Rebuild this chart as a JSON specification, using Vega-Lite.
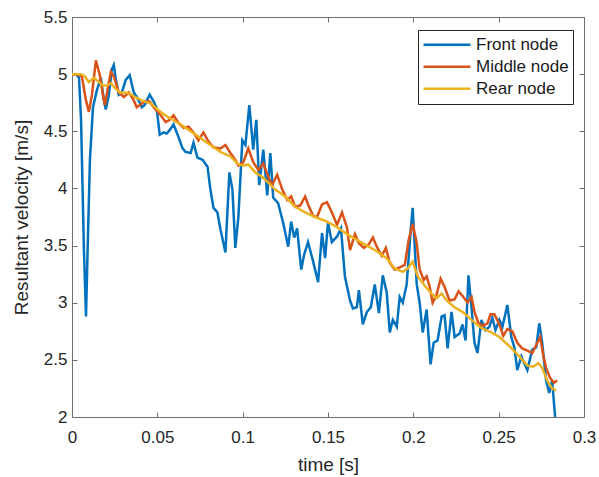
{
  "$schema": "https://vega.github.io/schema/vega-lite/v6.json",
  "width": 512,
  "height": 400,
  "autosize": {"type": "none"},
  "padding": {"left": 72, "top": 17, "right": 15, "bottom": 60},
  "background": "white",
  "config": {
    "view": {"stroke": null},
    "font": "Liberation Sans",
    "axis": {
      "grid": false,
      "domainColor": "#6e6e6e",
      "tickColor": "#6e6e6e",
      "domainWidth": 1,
      "tickWidth": 1,
      "tickSize": -5,
      "labelColor": "#262626",
      "titleColor": "#262626",
      "labelFont": "Liberation Sans",
      "titleFont": "Liberation Sans",
      "labelFontSize": 17,
      "titleFontSize": 19,
      "titleFontWeight": "normal",
      "labelFlush": false,
      "labelOverlap": false,
      "labelBound": false
    }
  },
  "datasets": {
    "front": [
      {"t":0,"v":5.00},{"t":0.0023,"v":5.00},{"t":0.0041,"v":4.97},{"t":0.0053,"v":4.60},{"t":0.0070,"v":3.46},{"t":0.0082,"v":2.88},{"t":0.0093,"v":3.55},{"t":0.0105,"v":4.25},{"t":0.0123,"v":4.71},{"t":0.0146,"v":4.86},{"t":0.0169,"v":4.97},{"t":0.0187,"v":4.77},{"t":0.0198,"v":4.69},{"t":0.0216,"v":4.82},{"t":0.0233,"v":5.04},{"t":0.0245,"v":5.08},{"t":0.0257,"v":4.95},{"t":0.0274,"v":4.82},{"t":0.0292,"v":4.84},{"t":0.0315,"v":4.95},{"t":0.0338,"v":4.99},{"t":0.0362,"v":4.84},{"t":0.0379,"v":4.80},{"t":0.0397,"v":4.75},{"t":0.0409,"v":4.71},{"t":0.0426,"v":4.73},{"t":0.0455,"v":4.82},{"t":0.0479,"v":4.76},{"t":0.0496,"v":4.70},{"t":0.0514,"v":4.47},{"t":0.0537,"v":4.49},{"t":0.0555,"v":4.48},{"t":0.0572,"v":4.51},{"t":0.0595,"v":4.56},{"t":0.0619,"v":4.47},{"t":0.0648,"v":4.35},{"t":0.0665,"v":4.32},{"t":0.0695,"v":4.31},{"t":0.0712,"v":4.40},{"t":0.0735,"v":4.27},{"t":0.0765,"v":4.25},{"t":0.0794,"v":4.19},{"t":0.0811,"v":3.99},{"t":0.0829,"v":3.83},{"t":0.0852,"v":3.79},{"t":0.0870,"v":3.64},{"t":0.0899,"v":3.44},{"t":0.0922,"v":4.14},{"t":0.0940,"v":3.99},{"t":0.0957,"v":3.48},{"t":0.0975,"v":3.75},{"t":0.0998,"v":4.42},{"t":0.1016,"v":4.38},{"t":0.1039,"v":4.73},{"t":0.1062,"v":4.34},{"t":0.1080,"v":4.60},{"t":0.1097,"v":4.03},{"t":0.1121,"v":4.34},{"t":0.1144,"v":3.94},{"t":0.1162,"v":4.31},{"t":0.1179,"v":3.92},{"t":0.1208,"v":3.87},{"t":0.1237,"v":3.70},{"t":0.1267,"v":3.49},{"t":0.1284,"v":3.71},{"t":0.1302,"v":3.57},{"t":0.1319,"v":3.65},{"t":0.1343,"v":3.29},{"t":0.1360,"v":3.42},{"t":0.1383,"v":3.53},{"t":0.1413,"v":3.36},{"t":0.1442,"v":3.18},{"t":0.1465,"v":3.61},{"t":0.1483,"v":3.39},{"t":0.1500,"v":3.70},{"t":0.1523,"v":3.53},{"t":0.1553,"v":3.58},{"t":0.1576,"v":3.65},{"t":0.1599,"v":3.23},{"t":0.1629,"v":3.02},{"t":0.1646,"v":2.95},{"t":0.1669,"v":2.96},{"t":0.1681,"v":3.11},{"t":0.1704,"v":2.81},{"t":0.1728,"v":2.92},{"t":0.1751,"v":2.96},{"t":0.1774,"v":3.16},{"t":0.1798,"v":2.91},{"t":0.1821,"v":3.24},{"t":0.1844,"v":3.09},{"t":0.1862,"v":2.74},{"t":0.1880,"v":2.85},{"t":0.1903,"v":2.79},{"t":0.1920,"v":3.05},{"t":0.1938,"v":3.00},{"t":0.1961,"v":3.16},{"t":0.1985,"v":3.64},{"t":0.1996,"v":3.83},{"t":0.2020,"v":3.16},{"t":0.2037,"v":3.00},{"t":0.2055,"v":2.74},{"t":0.2078,"v":2.94},{"t":0.2101,"v":2.46},{"t":0.2119,"v":2.65},{"t":0.2142,"v":2.67},{"t":0.2166,"v":2.88},{"t":0.2183,"v":2.89},{"t":0.2201,"v":2.60},{"t":0.2224,"v":2.92},{"t":0.2242,"v":2.70},{"t":0.2271,"v":2.73},{"t":0.2288,"v":2.81},{"t":0.2306,"v":2.67},{"t":0.2323,"v":3.24},{"t":0.2341,"v":2.96},{"t":0.2358,"v":2.65},{"t":0.2376,"v":2.56},{"t":0.2399,"v":2.85},{"t":0.2422,"v":2.76},{"t":0.2446,"v":2.79},{"t":0.2463,"v":2.87},{"t":0.2481,"v":2.76},{"t":0.2504,"v":2.85},{"t":0.2522,"v":2.79},{"t":0.2551,"v":2.98},{"t":0.2574,"v":2.70},{"t":0.2592,"v":2.61},{"t":0.2609,"v":2.41},{"t":0.2633,"v":2.53},{"t":0.2650,"v":2.47},{"t":0.2668,"v":2.41},{"t":0.2697,"v":2.59},{"t":0.2720,"v":2.61},{"t":0.2738,"v":2.82},{"t":0.2755,"v":2.65},{"t":0.2778,"v":2.32},{"t":0.2796,"v":2.21},{"t":0.2813,"v":2.32},{"t":0.2831,"v":2.00}
    ],
    "middle": [
      {"t":0,"v":5.00},{"t":0.0029,"v":5.00},{"t":0.0058,"v":4.98},{"t":0.0082,"v":4.77},{"t":0.0099,"v":4.67},{"t":0.0117,"v":4.82},{"t":0.0140,"v":5.12},{"t":0.0163,"v":4.99},{"t":0.0181,"v":4.82},{"t":0.0193,"v":4.73},{"t":0.0210,"v":4.88},{"t":0.0228,"v":5.02},{"t":0.0245,"v":4.98},{"t":0.0274,"v":4.84},{"t":0.0304,"v":4.80},{"t":0.0333,"v":4.84},{"t":0.0362,"v":4.77},{"t":0.0379,"v":4.71},{"t":0.0397,"v":4.73},{"t":0.0426,"v":4.76},{"t":0.0455,"v":4.76},{"t":0.0484,"v":4.70},{"t":0.0520,"v":4.64},{"t":0.0549,"v":4.58},{"t":0.0572,"v":4.60},{"t":0.0595,"v":4.64},{"t":0.0625,"v":4.57},{"t":0.0654,"v":4.53},{"t":0.0683,"v":4.54},{"t":0.0712,"v":4.49},{"t":0.0741,"v":4.42},{"t":0.0770,"v":4.49},{"t":0.0800,"v":4.41},{"t":0.0829,"v":4.36},{"t":0.0870,"v":4.35},{"t":0.0899,"v":4.38},{"t":0.0928,"v":4.31},{"t":0.0957,"v":4.25},{"t":0.0975,"v":4.20},{"t":0.1004,"v":4.23},{"t":0.1033,"v":4.35},{"t":0.1062,"v":4.23},{"t":0.1092,"v":4.16},{"t":0.1121,"v":4.22},{"t":0.1150,"v":4.10},{"t":0.1173,"v":4.03},{"t":0.1202,"v":4.12},{"t":0.1232,"v":3.99},{"t":0.1261,"v":3.90},{"t":0.1284,"v":3.93},{"t":0.1307,"v":3.84},{"t":0.1337,"v":3.85},{"t":0.1366,"v":3.93},{"t":0.1383,"v":3.86},{"t":0.1413,"v":3.76},{"t":0.1436,"v":3.75},{"t":0.1465,"v":3.86},{"t":0.1494,"v":3.88},{"t":0.1523,"v":3.79},{"t":0.1553,"v":3.68},{"t":0.1582,"v":3.79},{"t":0.1611,"v":3.66},{"t":0.1629,"v":3.46},{"t":0.1658,"v":3.60},{"t":0.1681,"v":3.52},{"t":0.1710,"v":3.48},{"t":0.1739,"v":3.51},{"t":0.1763,"v":3.57},{"t":0.1786,"v":3.49},{"t":0.1815,"v":3.41},{"t":0.1839,"v":3.48},{"t":0.1862,"v":3.35},{"t":0.1891,"v":3.29},{"t":0.1920,"v":3.31},{"t":0.1950,"v":3.33},{"t":0.1973,"v":3.55},{"t":0.1996,"v":3.69},{"t":0.2020,"v":3.52},{"t":0.2037,"v":3.29},{"t":0.2061,"v":3.20},{"t":0.2078,"v":3.23},{"t":0.2096,"v":3.14},{"t":0.2113,"v":3.00},{"t":0.2136,"v":3.07},{"t":0.2160,"v":3.21},{"t":0.2183,"v":3.14},{"t":0.2212,"v":3.02},{"t":0.2242,"v":3.03},{"t":0.2265,"v":3.10},{"t":0.2288,"v":3.06},{"t":0.2317,"v":3.00},{"t":0.2341,"v":3.05},{"t":0.2358,"v":2.92},{"t":0.2382,"v":2.82},{"t":0.2411,"v":2.80},{"t":0.2434,"v":2.82},{"t":0.2452,"v":2.90},{"t":0.2475,"v":2.90},{"t":0.2504,"v":2.81},{"t":0.2527,"v":2.71},{"t":0.2551,"v":2.77},{"t":0.2580,"v":2.75},{"t":0.2609,"v":2.65},{"t":0.2638,"v":2.60},{"t":0.2668,"v":2.58},{"t":0.2697,"v":2.56},{"t":0.2720,"v":2.63},{"t":0.2743,"v":2.70},{"t":0.2761,"v":2.54},{"t":0.2778,"v":2.43},{"t":0.2802,"v":2.34},{"t":0.2825,"v":2.30},{"t":0.2843,"v":2.32}
    ],
    "rear": [
      {"t":0,"v":5.00},{"t":0.0053,"v":5.00},{"t":0.0076,"v":4.98},{"t":0.0099,"v":4.93},{"t":0.0128,"v":4.97},{"t":0.0158,"v":4.93},{"t":0.0181,"v":4.90},{"t":0.0204,"v":4.90},{"t":0.0228,"v":4.92},{"t":0.0251,"v":4.88},{"t":0.0280,"v":4.84},{"t":0.0309,"v":4.84},{"t":0.0338,"v":4.83},{"t":0.0368,"v":4.80},{"t":0.0397,"v":4.78},{"t":0.0426,"v":4.76},{"t":0.0467,"v":4.74},{"t":0.0502,"v":4.69},{"t":0.0537,"v":4.65},{"t":0.0578,"v":4.61},{"t":0.0636,"v":4.56},{"t":0.0695,"v":4.50},{"t":0.0753,"v":4.44},{"t":0.0811,"v":4.38},{"t":0.0870,"v":4.32},{"t":0.0928,"v":4.28},{"t":0.0975,"v":4.21},{"t":0.1004,"v":4.20},{"t":0.1033,"v":4.21},{"t":0.1074,"v":4.14},{"t":0.1115,"v":4.10},{"t":0.1150,"v":4.05},{"t":0.1191,"v":3.99},{"t":0.1249,"v":3.93},{"t":0.1307,"v":3.84},{"t":0.1366,"v":3.79},{"t":0.1424,"v":3.75},{"t":0.1494,"v":3.71},{"t":0.1553,"v":3.66},{"t":0.1611,"v":3.60},{"t":0.1669,"v":3.55},{"t":0.1728,"v":3.50},{"t":0.1786,"v":3.45},{"t":0.1844,"v":3.39},{"t":0.1891,"v":3.30},{"t":0.1938,"v":3.27},{"t":0.1967,"v":3.30},{"t":0.1996,"v":3.36},{"t":0.2026,"v":3.23},{"t":0.2066,"v":3.15},{"t":0.2107,"v":3.08},{"t":0.2136,"v":3.04},{"t":0.2166,"v":3.08},{"t":0.2195,"v":3.02},{"t":0.2241,"v":2.96},{"t":0.2288,"v":2.92},{"t":0.2341,"v":2.85},{"t":0.2399,"v":2.78},{"t":0.2457,"v":2.74},{"t":0.2504,"v":2.70},{"t":0.2563,"v":2.62},{"t":0.2621,"v":2.53},{"t":0.2668,"v":2.45},{"t":0.2703,"v":2.44},{"t":0.2732,"v":2.47},{"t":0.2755,"v":2.43},{"t":0.2784,"v":2.32},{"t":0.2813,"v":2.25},{"t":0.2837,"v":2.23}
    ]
  },
  "layer": [
    {
      "data": {"name": "front"},
      "mark": {"type": "line", "strokeWidth": 2.5, "clip": true},
      "encoding": {
        "x": {"field": "t", "type": "quantitative", "scale": {"domain": [0, 0.3], "nice": false, "zero": false},
          "axis": {"orient": "bottom", "values": [0, 0.05, 0.1, 0.15, 0.2, 0.25, 0.3], "format": "~g", "title": "time [s]", "labelPadding": 17, "titleBaseline": "alphabetic", "titleY": 53}},
        "y": {"field": "v", "type": "quantitative", "scale": {"domain": [2, 5.5], "nice": false, "zero": false},
          "axis": {"orient": "left", "values": [2, 2.5, 3, 3.5, 4, 4.5, 5, 5.5], "format": "~g", "title": "Resultant velocity [m/s]", "labelPadding": 10, "titleBaseline": "alphabetic", "titleX": -45}},
        "color": {"datum": "Front node", "type": "nominal",
          "scale": {"domain": ["Front node", "Middle node", "Rear node"], "range": ["#0072BD", "#D95319", "#EDB120"]},
          "legend": {"title": null, "orient": "none", "legendX": 346, "legendY": 13, "symbolType": "stroke", "symbolSize": 2209, "symbolStrokeWidth": 2.5, "clipHeight": 21.5, "labelFontSize": 17, "labelFont": "Liberation Sans", "labelColor": "#1a1a1a", "strokeColor": "#262626", "fillColor": "white", "padding": 4, "labelOffset": 4, "rowPadding": 0}}
      }
    },
    {
      "data": {"name": "middle"},
      "mark": {"type": "line", "strokeWidth": 2.5, "clip": true},
      "encoding": {
        "x": {"field": "t", "type": "quantitative", "axis": null},
        "y": {"field": "v", "type": "quantitative", "axis": null},
        "color": {"datum": "Middle node", "type": "nominal"}
      }
    },
    {
      "data": {"name": "rear"},
      "mark": {"type": "line", "strokeWidth": 2.5, "clip": true},
      "encoding": {
        "x": {"field": "t", "type": "quantitative", "axis": null},
        "y": {"field": "v", "type": "quantitative", "axis": null},
        "color": {"datum": "Rear node", "type": "nominal"}
      }
    },
    {
      "data": {"name": "rear"},
      "mark": {"type": "point", "opacity": 0},
      "encoding": {
        "x": {"field": "t", "type": "quantitative", "axis": {"orient": "top", "values": [0, 0.05, 0.1, 0.15, 0.2, 0.25, 0.3], "labels": false, "title": null}},
        "y": {"field": "v", "type": "quantitative", "axis": {"orient": "right", "values": [2, 2.5, 3, 3.5, 4, 4.5, 5, 5.5], "labels": false, "title": null}}
      }
    }
  ],
  "resolve": {"axis": {"x": "independent", "y": "independent"}}
}
